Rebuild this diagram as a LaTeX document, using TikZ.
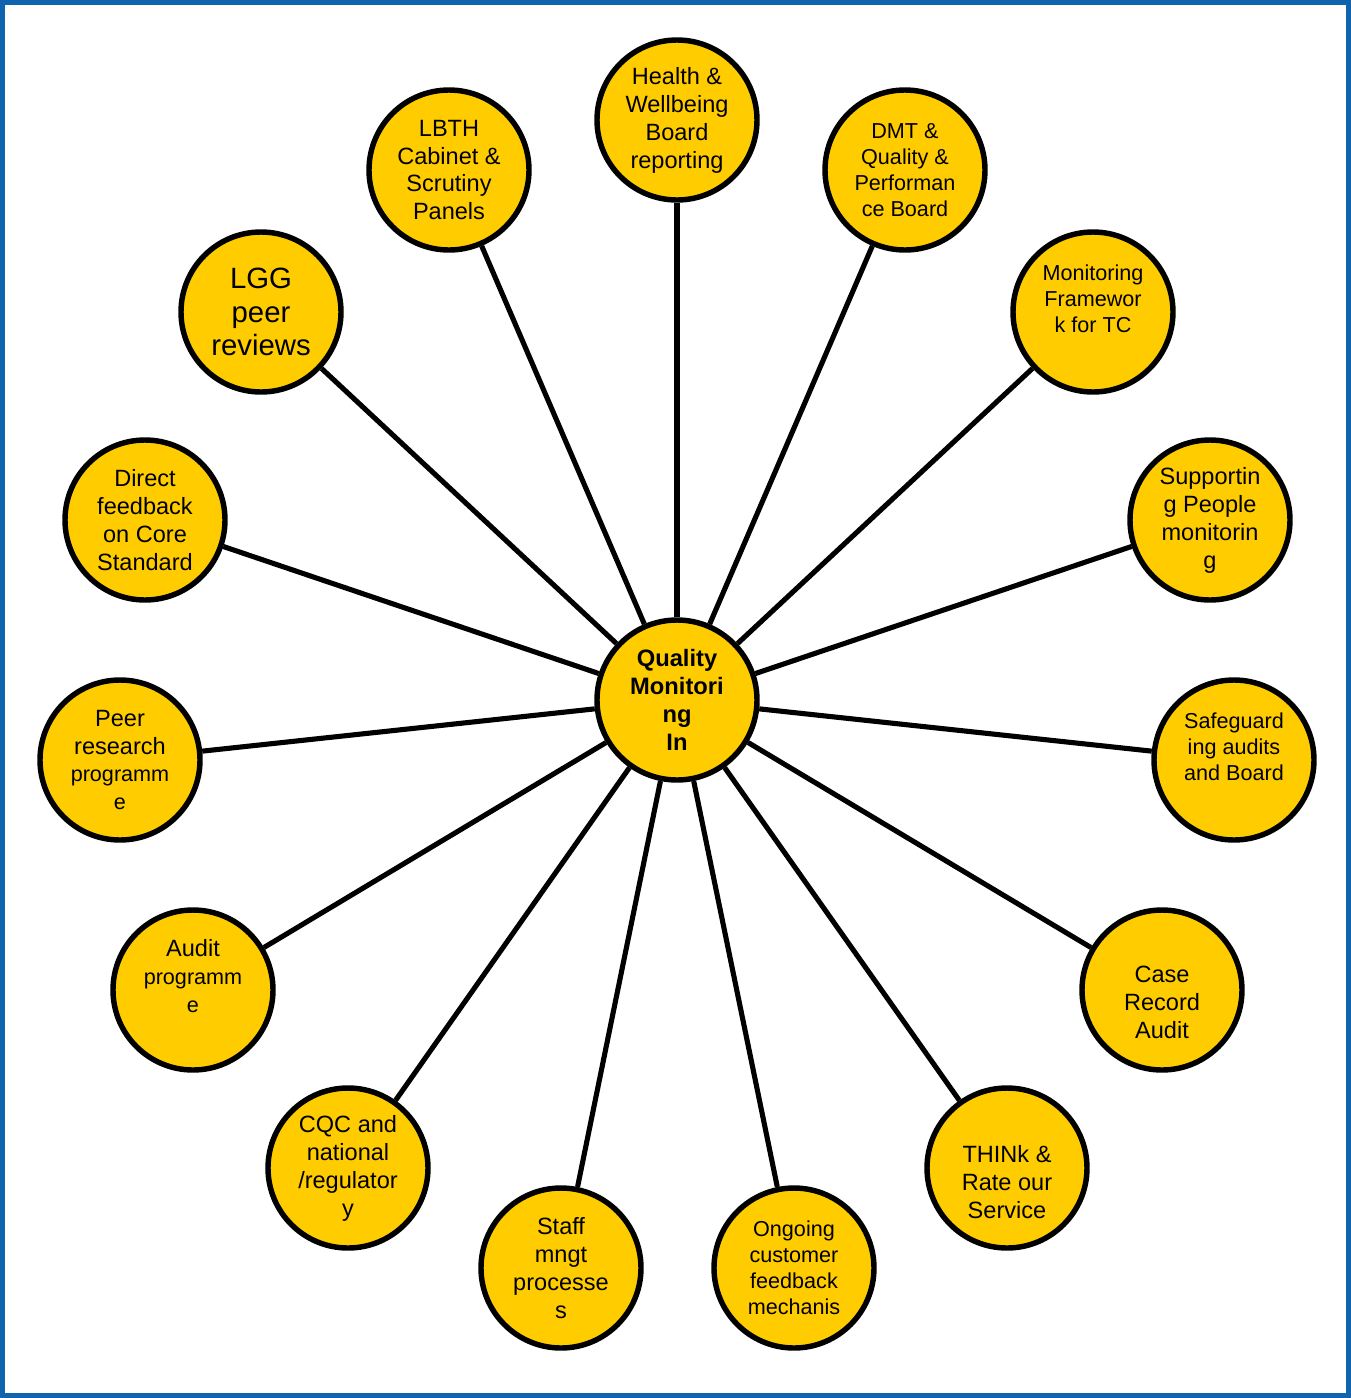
\documentclass[tikz,border=0pt]{standalone}
\usepackage{fontspec}
\setmainfont{Liberation Sans}
\usepackage{tikz}
\usetikzlibrary{backgrounds}

\definecolor{gold}{RGB}{255,204,0}
\definecolor{framebl}{RGB}{16,99,173}
\newcommand{\sfnt}{\fontsize{12.3}{14.8}\selectfont}

\begin{document}
\begin{tikzpicture}[
    every node/.style={font=\fontsize{13.4}{15.9}\selectfont},
    hub/.style={circle, draw=black, line width=3.1pt, fill=gold, minimum size=3.2cm, inner sep=0pt, align=center},
    spoke/.style={line width=2.9pt, black}
]
\useasboundingbox (0,0) rectangle (27.02,-27.96);

% Centre
\node (qm) [hub, font=\bfseries\fontsize{13.5}{16}\selectfont] at (13.54,-14.00) {Quality\\Monitori\\ng\\In};

% Top half
\node (hwb) [hub] at (13.54,-2.40) {Health \&\\Wellbeing\\Board\\reporting};
\node (lbth) [hub] at (8.98,-3.40) {LBTH\\Cabinet \&\\Scrutiny\\Panels};
\node (dmt) [hub, font=\sfnt] at (18.10,-3.40) {DMT \&\\Quality \&\\Performan\\ce Board};
\node (lgg) [hub, font=\fontsize{16.7}{19}\selectfont] at (5.22,-6.24) {LGG\\peer\\reviews};
\node (mft) [hub, font=\sfnt] at (21.86,-6.24) {Monitoring\\Framewor\\k for TC\\\mbox{}};
\node (dfb) [hub] at (2.90,-10.40) {Direct\\feedback\\on Core\\Standard};
\node (spm) [hub] at (24.20,-10.40) {Supportin\\g People\\monitorin\\g};

% Bottom half
\node (prp) [hub] at (2.40,-15.20) {Peer\\research\\\sfnt programm\\\sfnt e};
\node (sga) [hub, font=\sfnt] at (24.68,-15.20) {Safeguard\\ing audits\\and Board\\\mbox{}};
\node (aud) [hub] at (3.86,-19.80) {Audit\\\sfnt programm\\\sfnt e\\\mbox{}};
\node (cra) [hub] at (23.24,-19.80) {\mbox{}\\[8pt]Case\\Record\\Audit};
\node (cqc) [hub] at (6.96,-23.36) {CQC and\\national\\/regulator\\y};
\node (trs) [hub] at (20.14,-23.36) {\mbox{}\\[10pt]THINk \&\\Rate our\\Service};
\node (smp) [hub] at (11.22,-25.36) {Staff\\mngt\\processe\\s};
\node (ocf) [hub, font=\sfnt] at (15.88,-25.36) {Ongoing\\customer\\feedback\\mechanis};

% Spokes and frame
\begin{scope}[on background layer]
    \draw [framebl, line width=3pt] (0.05,-0.05) rectangle (26.97,-27.91);
    \draw [spoke] (qm) -- (hwb);
    \draw [spoke] (qm) -- (lbth);
    \draw [spoke] (qm) -- (dmt);
    \draw [spoke] (qm) -- (lgg);
    \draw [spoke] (qm) -- (mft);
    \draw [spoke] (qm) -- (dfb);
    \draw [spoke] (qm) -- (spm);
    \draw [spoke] (qm) -- (prp);
    \draw [spoke] (qm) -- (sga);
    \draw [spoke] (qm) -- (aud);
    \draw [spoke] (qm) -- (cra);
    \draw [spoke] (qm) -- (cqc);
    \draw [spoke] (qm) -- (trs);
    \draw [spoke] (qm) -- (smp);
    \draw [spoke] (qm) -- (ocf);
\end{scope}

\end{tikzpicture}
\end{document}
